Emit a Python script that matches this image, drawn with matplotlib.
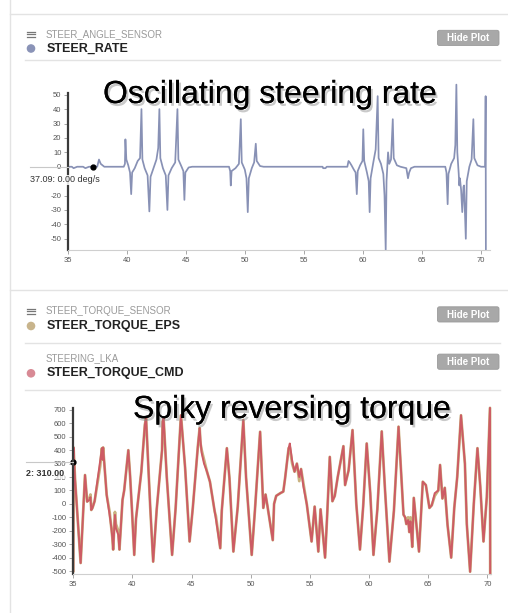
import matplotlib
matplotlib.use("Agg")
import matplotlib.pyplot as plt
import matplotlib.patheffects as pe
from matplotlib.patches import Circle, FancyBboxPatch

# ---- data ----
rate_t = [35.0, 35.3, 35.45, 35.75, 36.25, 36.45, 36.75, 37.09, 37.45, 37.6, 37.75, 38.05,
          39.7, 39.8, 39.84, 39.92, 40.08, 40.23, 40.33, 40.41, 40.63, 40.88, 41.08, 41.2,
          41.28, 41.47, 41.72, 41.87, 41.97, 42.22, 42.47, 42.62, 42.72, 42.8, 43.02, 43.26,
          43.4, 43.49, 43.76, 44.06, 44.25, 44.33, 44.6, 44.75, 44.84, 44.92, 45.2, 45.5,
          48.62, 48.72, 48.77, 48.84, 49.17, 49.46, 49.62, 49.7, 49.96, 50.1, 50.21, 50.3,
          50.55, 50.75, 50.89, 50.97, 51.25, 51.55,
          56.55, 56.6, 56.8, 56.9, 58.65, 58.75, 58.85, 59.0, 59.2, 59.35, 59.45, 59.53,
          59.73, 59.93, 60.0, 60.08, 60.31, 60.46, 60.54, 60.62, 60.85, 61.05, 61.22, 61.3,
          61.5, 61.7, 61.8, 61.9, 61.97, 62.1, 62.2, 62.35, 62.5, 62.58, 62.85, 63.15,
          63.65, 63.79, 63.89, 64.04, 64.34,
          66.95, 67.05, 67.15, 67.22, 67.45, 67.7, 67.8, 67.89, 67.97, 68.09, 68.14, 68.19,
          68.29, 68.39, 68.49, 68.54, 68.69, 68.77, 68.99, 69.18, 69.33, 69.41, 69.68, 69.98,
          70.33, 70.37, 70.39]
rate_v = [0, 0, -1, 0, 0, -1, 0, 0, 0, 5, 2, 0,
          0, 2, 19, 5, 1, -4, -19, -4, -1, 4, 6, 40,
          5, -1, -6, -31, -7, -1, 5, 13, 40, 6, -1, -6,
          -30, -6, -1, 3, 40, 5, 0, -3, -23, -4, -0.5, 0,
          0, -3, -13, -3, -1, 2, 33, 3, -2, -8, -31.5, -8,
          -1, 3, 16, 4, 0.5, 0,
          0, -1, -1, 0, 0, 4, 3, 1, -2, -4, -19, -3,
          1, 4, 26, 4, -4, -10, -31.5, -8, 3, 12, 49, 6,
          2, -5, -20, -57.8, -10, 10, 2, 5, 33, 6, 1, 0,
          -1, -8, -4, -1, 0,
          0, -4, -26, -5, 2, 6, 15, 57, 10, -5, -13, -8,
          -16, -31.5, -14, -13, -50, -10, 0, 5, 33, 6, 1, 0,
          0, 49, -57.8]
rate_yticks = [-50, -40, -30, -20, 0, 10, 20, 30, 40, 50]

torque_t = [35.0, 35.02, 35.15, 35.62, 35.99, 36.17, 36.36, 36.45, 36.52, 36.62, 36.8, 37.27,
            37.42, 37.47, 37.52, 37.82, 38.07, 38.22, 38.3, 38.37, 38.52, 38.6, 38.8, 38.9,
            39.06, 39.16, 39.3, 39.65, 39.8, 39.95, 40.15, 40.3, 40.75, 41.05, 41.15, 41.5,
            41.75, 42.05, 42.5, 42.55, 42.63, 42.9, 43.35, 43.65, 44.1, 44.45, 44.83, 45.1,
            45.53, 45.68, 45.75, 45.85, 46.05, 46.3, 46.55, 46.95, 47.05, 47.42, 47.55, 47.98,
            48.2, 48.53, 48.9, 49.37, 49.6, 50.08, 50.35, 50.79, 51.06, 51.25, 51.4, 51.86,
            51.97, 52.15, 52.5, 52.75, 52.9, 53.2, 53.3, 53.5, 53.7, 53.9, 54.1, 54.25,
            54.45, 54.74, 55.14, 55.4, 55.71, 55.9, 56.28, 56.45, 56.68, 56.9, 57.1, 57.35,
            57.83, 57.97, 58.27, 58.6, 58.92, 59.23, 59.5, 59.8, 60.1, 60.37, 60.7, 61.07,
            61.35, 61.72, 62.1, 62.49, 62.7, 62.91, 63.05, 63.15, 63.3, 63.4, 63.5, 63.65,
            63.78, 63.92, 64.22, 64.54, 64.8, 65.1, 65.3, 65.55, 65.85, 66.0, 66.2, 66.4,
            66.63, 66.94, 67.2, 67.45, 67.77, 68.1, 68.26, 68.54, 68.85, 69.16, 69.4, 69.67,
            69.95, 70.17, 70.22, 70.24]
torque_cmd = [-500, 420, 180, -440, 215, 17, 30, 50, -45, -30, 20, 315,
              415, 330, 420, 67, -82, -180, -250, -340, -82, -180, -230, -340,
              -110, 30, 100, 400, 210, -30, -380, -110, 240, 590, 640, -20,
              -430, -40, 400, 612, 640, 200, -380, -30, 660, 270, -280, -30,
              430, 565, 470, 380, 300, 240, 165, -57, -110, -330, -50, 415,
              190, -355, -20, 625, 200, -380, -50, 537, -30, 70, -10, -270,
              0, 60, 80, 92, 190, 415, 450, 320, 240, 300, 200, 260,
              130, -5, -280, -20, -355, -40, -400, -100, 350, 20, 60, 200,
              430, 140, 250, 550, 0, -340, -20, 450, 80, -380, -40, 540,
              100, -430, -50, 575, 250, -80, -100, -150, -120, -210, -130, -320,
              45, -85, -355, 165, 140, -30, -10, 80, 100, 290, 40, 120,
              -155, -400, -30, 200, 660, 300, -150, -505, 0, 415, 130, -280,
              50, 590, 715, -520]
torque_eps = [-500, 420, 180, -440, 215, 17, 40, 70, -45, -30, 20, 280,
              415, 330, 420, 67, -60, -180, -250, -340, -60, -150, -200, -340,
              -110, 30, 100, 400, 210, -30, -380, -110, 240, 590, 640, -20,
              -430, -40, 400, 612, 640, 200, -380, -30, 660, 270, -280, -30,
              430, 565, 450, 400, 330, 240, 165, -57, -90, -330, -50, 415,
              190, -355, -20, 625, 200, -380, -50, 537, -30, 70, -10, -270,
              0, 60, 80, 92, 190, 415, 420, 300, 240, 300, 170, 260,
              150, -5, -280, -20, -355, -40, -400, -100, 350, 20, 60, 200,
              430, 140, 250, 550, 0, -340, -20, 450, 80, -380, -40, 540,
              100, -430, -50, 575, 250, -80, -100, -150, -100, -210, -100, -320,
              45, -85, -355, 165, 140, -30, -10, 60, 100, 290, 40, 120,
              -155, -400, -30, 200, 660, 300, -150, -505, 0, 415, 130, -280,
              50, 590, 715, -520]
torque_yticks = [700, 600, 500, 400, 300, 200, 100, 0, -100, -200, -300, -400, -500]
time_ticks = [35, 40, 45, 50, 55, 60, 65, 70]

W, H = 508, 613
plt.rcParams['font.family'] = ['Liberation Sans', 'DejaVu Sans']
plt.rcParams['axes.unicode_minus'] = False
fig = plt.figure(figsize=(W / 100, H / 100), dpi=100)


def px_axes(left, top, right, bottom):
    return fig.add_axes([left / W, 1 - bottom / H, (right - left) / W, (bottom - top) / H])


def style_chart(ax, yticks):
    ax.set_facecolor('none')
    for s in ['top', 'right']:
        ax.spines[s].set_visible(False)
    ax.spines['left'].set_color('#3a3a3a')
    ax.spines['left'].set_linewidth(1.6)
    ax.spines['bottom'].set_color('#cfcfcf')
    ax.spines['bottom'].set_linewidth(0.8)
    ax.set_xticks(time_ticks)
    ax.set_yticks(yticks)
    ax.tick_params(length=3, width=0.6, color='#999999', labelsize=5.5,
                   labelcolor='#555555', pad=2)


# chart 1: steer rate
ax1 = px_axes(68.3, 92.7, 490, 250)
ax1.plot(rate_t, rate_v, color='#8891b5', lw=1.25, clip_on=False)
ax1.set_xlim(35, 70.74)
ax1.set_ylim(-57.8, 51.4)
style_chart(ax1, rate_yticks)
ax1.plot([37.09], [0], 'o', color='black', ms=3.5, clip_on=False)

# chart 2: torque
ax2 = px_axes(73.3, 408.3, 490.7, 574)
ax2.plot(torque_t, torque_eps, color='#c9b27f', lw=2.0, clip_on=False)
ax2.plot(torque_t, torque_cmd, color='#cd5b64', lw=1.4, clip_on=False)
ax2.set_xlim(35, 70.28)
ax2.set_ylim(-522, 712)
style_chart(ax2, torque_yticks)
ax2.plot([35], [314], 'o', color='black', ms=3.5, clip_on=False)

# overlay in pixel coordinates for the page chrome
ov = fig.add_axes([0, 0, 1, 1], zorder=5)
ov.set_xlim(0, W)
ov.set_ylim(H, 0)
ov.axis('off')
ov.patch.set_alpha(0)

line_c = '#e3e3e3'
ov.plot([10, 10], [0, H], color=line_c, lw=1)
ov.plot([10, W], [14, 14], color=line_c, lw=1)
ov.plot([25, 500], [60, 60], color=line_c, lw=1)
ov.plot([10, W], [289.5, 289.5], color=line_c, lw=1)
ov.plot([25, 500], [343, 343], color=line_c, lw=1)
ov.plot([25, 500], [390, 390], color=line_c, lw=1)


def header(y_small, y_big, small, big, dot_color, menu):
    if menu:
        for dy in (-2.5, 0, 2.5):
            ov.plot([27, 35], [y_small + dy, y_small + dy], color='#777777', lw=0.9)
    ov.text(46, y_small, small, fontsize=7, color='#9a9a9a', va='center', ha='left')
    ov.add_patch(Circle((31, y_big), 4.3, color=dot_color, lw=0))
    ov.text(46.5, y_big, big, fontsize=9, fontweight='bold', color='#222222',
            va='center', ha='left')


def button(top):
    ov.add_patch(FancyBboxPatch((437.5, top + 0.8), 61.5, 15.2,
                                boxstyle='round,pad=0,rounding_size=2',
                                facecolor='#a8a8a8', edgecolor='#9a9a9a', lw=0.6))
    ov.text(468, top + 8.6, 'Hide Plot', fontsize=7, fontweight='bold', color='white',
            ha='center', va='center')


header(34, 48.5, 'STEER_ANGLE_SENSOR', 'STEER_RATE', '#8a93b7', True)
button(29.5)
header(311, 326, 'STEER_TORQUE_SENSOR', 'STEER_TORQUE_EPS', '#c8b48c', True)
button(306)
header(358.5, 373.3, 'STEERING_LKA', 'STEER_TORQUE_CMD', '#d88a95', False)
button(353.3)

# hover readouts
ov.plot([30, 68.3], [166.5, 166.5], color='#c8c8c8', lw=0.8)
ov.text(30, 180, '37.09: 0.00 deg/s', fontsize=6.5, color='#333333', va='center', ha='left',
        bbox=dict(facecolor='white', edgecolor='none', alpha=0.85, pad=0.5))
ov.plot([26, 73.3], [461.7, 461.7], color='#c8c8c8', lw=0.8)
ov.text(26, 474, '2: 310.00', fontsize=6.5, fontweight='bold', color='#333333',
        va='center', ha='left',
        bbox=dict(facecolor='white', edgecolor='none', alpha=0.7, pad=0.5))

# big captions
shadow = [pe.withSimplePatchShadow(offset=(1.5, -2), shadow_rgbFace='#888888', alpha=0.45),
          pe.Normal()]
ov.text(103, 103, 'Oscillating steering rate', fontsize=23, color='black',
        ha='left', va='baseline', path_effects=shadow)
ov.text(133, 418, 'Spiky reversing torque', fontsize=23, color='black',
        ha='left', va='baseline', path_effects=shadow)

fig.savefig('out.png', dpi=100)
